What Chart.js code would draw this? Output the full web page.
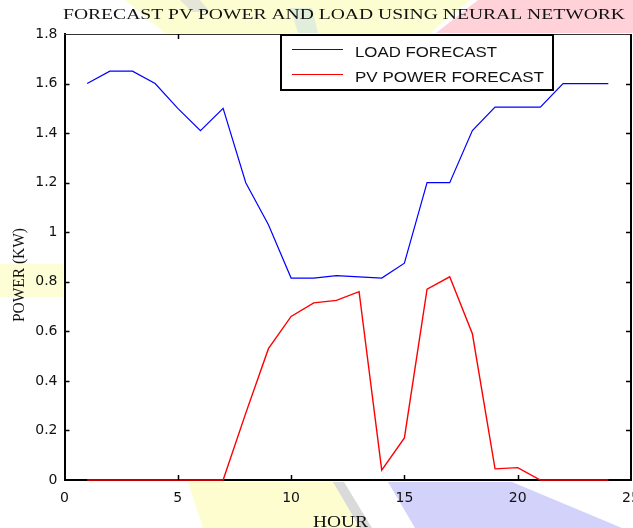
<!DOCTYPE html>
<html>
<head>
<meta charset="utf-8">
<script src="https://cdn.jsdelivr.net/npm/chart.js@4.4.1/dist/chart.umd.min.js"></script>
<style>
  html, body { margin: 0; padding: 0; background: #fff; }
  #wrap { width: 633px; height: 528px; }
</style>
</head>
<body>
<div id="wrap"><canvas id="c" width="633" height="528"></canvas></div>
<script>
// Hourly forecast data (kW)
const hours = [1,2,3,4,5,6,7,8,9,10,11,12,13,14,15,16,17,18,19,20,21,22,23,24];
const loadForecast = [1.60,1.65,1.65,1.60,1.50,1.41,1.50,1.20,1.03,0.815,0.815,0.825,0.82,0.815,0.875,1.20,1.20,1.41,1.505,1.505,1.505,1.60,1.60,1.60];
const pvForecast = [0,0,0,0,0,0,0,0.27,0.53,0.66,0.715,0.725,0.76,0.04,0.17,0.77,0.82,0.59,0.045,0.05,0,0,0,0];
const seriesNames = ['LOAD FORECAST', 'PV POWER FORECAST'];
const xTickValues = [0,5,10,15,20,25];
const xTickLabels = ['0','5','10','15','20','25'];
const yTickValues = [0,0.2,0.4,0.6,0.8,1.0,1.2,1.4,1.6,1.8];
const yTickLabels = ['0','0.2','0.4','0.6','0.8','1','1.2','1.4','1.6','1.8'];
const chartTitle = 'FORECAST PV POWER AND LOAD USING NEURAL NETWORK';
const xTitle = 'HOUR';
const yTitle = 'POWER (KW)';

const toPoints = (vals) => vals.map((v, i) => ({ x: hours[i], y: v }));

// Draw text horizontally stretched to a given width
function fitText(ctx, text, font, x, y, width, align) {
  ctx.save();
  ctx.font = font;
  const w = ctx.measureText(text).width;
  const sx = width / w;
  ctx.translate(x, y);
  ctx.scale(sx, 1);
  ctx.textAlign = align || 'left';
  ctx.textBaseline = 'alphabetic';
  ctx.fillText(text, 0, 0);
  ctx.restore();
}

function poly(ctx, pts, color) {
  ctx.beginPath();
  ctx.moveTo(pts[0][0], pts[0][1]);
  for (let i = 1; i < pts.length; i++) ctx.lineTo(pts[i][0], pts[i][1]);
  ctx.closePath();
  ctx.fillStyle = color;
  ctx.fill();
}

// Page background with the pale coloured patches behind the figure
const backdrop = {
  id: 'backdrop',
  beforeDraw(chart) {
    const ctx = chart.ctx;
    ctx.save();
    ctx.fillStyle = '#ffffff';
    ctx.fillRect(0, 0, chart.width, chart.height);
    poly(ctx, [[125,0],[470,0],[430,33],[165,33]], '#fdfdd2');
    poly(ctx, [[180,0],[200,0],[210,12],[192,12]], '#e6e6d8');
    poly(ctx, [[290,8],[312,8],[318,33],[298,33]], '#e2eedc');
    poly(ctx, [[478,0],[633,0],[633,33],[436,33]], '#ffd2da');
    poly(ctx, [[0,264],[63,264],[63,297],[0,297]], '#fdfdd6');
    poly(ctx, [[188,482],[333,482],[360,528],[203,528]], '#fdfdd0');
    poly(ctx, [[333,482],[344,482],[372,528],[360,528]], '#dadada');
    poly(ctx, [[388,482],[512,482],[622,528],[415,528]], '#d2d2fb');
    ctx.restore();
  }
};

// Box, inward tick marks, legend and text
const decorations = {
  id: 'decorations',
  afterDraw(chart) {
    const ctx = chart.ctx;
    const a = chart.chartArea;
    const xs = chart.scales.x, ys = chart.scales.y;
    ctx.save();
    // frame
    ctx.strokeStyle = '#333';
    ctx.lineWidth = 1;
    ctx.beginPath();
    ctx.moveTo(a.left, a.top + 0.5);
    ctx.lineTo(a.right, a.top + 0.5);
    ctx.stroke();
    ctx.strokeStyle = '#000';
    ctx.lineWidth = 2;
    ctx.beginPath();
    ctx.moveTo(a.right, a.top);
    ctx.lineTo(a.right, a.bottom);
    ctx.stroke();
    // inward ticks
    ctx.lineWidth = 1.5;
    ctx.beginPath();
    xTickValues.forEach(v => {
      if (v <= xs.min || v >= xs.max) return;
      const px = Math.round(xs.getPixelForValue(v)) + 0.5;
      ctx.moveTo(px, a.bottom); ctx.lineTo(px, a.bottom - 5);
      ctx.moveTo(px, a.top); ctx.lineTo(px, a.top + 5);
    });
    yTickValues.forEach(v => {
      if (v <= ys.min || v >= ys.max) return;
      const py = Math.round(ys.getPixelForValue(v)) + 0.5;
      ctx.moveTo(a.left, py); ctx.lineTo(a.left + 5, py);
      ctx.moveTo(a.right, py); ctx.lineTo(a.right - 5, py);
    });
    ctx.stroke();

    // legend
    const lx = 281, ly = 35, lw = 272, lh = 55;
    ctx.fillStyle = '#fff';
    ctx.fillRect(lx, ly, lw, lh);
    ctx.strokeStyle = '#000';
    ctx.lineWidth = 2;
    ctx.strokeRect(lx, ly, lw, lh);
    const entries = [
      { y: 49.5, ty: 57.3, w: 142, ds: chart.data.datasets[0] },
      { y: 74.5, ty: 82.3, w: 189, ds: chart.data.datasets[1] }
    ];
    entries.forEach(e => {
      ctx.strokeStyle = e.ds.borderColor;
      ctx.lineWidth = 1.2;
      ctx.beginPath();
      ctx.moveTo(292, e.y); ctx.lineTo(343, e.y);
      ctx.stroke();
      ctx.fillStyle = '#111';
      fitText(ctx, e.ds.label, '15px "Liberation Sans", Arial, sans-serif', 355, e.ty, e.w, 'left');
    });

    // titles
    ctx.fillStyle = '#111';
    fitText(ctx, chartTitle, '14px "Liberation Serif", "Times New Roman", serif', 63, 18.7, 562, 'left');
    fitText(ctx, xTitle, '17px "Liberation Serif", "Times New Roman", serif', 313, 526.5, 55, 'left');
    // rotated y title, stretched across its height
    ctx.save();
    ctx.font = '14.5px "Liberation Serif", "Times New Roman", serif';
    const tw = ctx.measureText(yTitle).width;
    ctx.translate(23.5, 275);
    ctx.rotate(-Math.PI / 2);
    ctx.scale(94 / tw, 1.2);
    ctx.textAlign = 'center';
    ctx.textBaseline = 'alphabetic';
    ctx.fillText(yTitle, 0, 0);
    ctx.restore();
    ctx.restore();
  }
};

new Chart(document.getElementById('c'), {
  type: 'line',
  data: {
    datasets: [
      { label: seriesNames[0], data: toPoints(loadForecast), borderColor: '#0000ff', borderWidth: 1.2, pointRadius: 0, tension: 0, fill: false, clip: false },
      { label: seriesNames[1], data: toPoints(pvForecast), borderColor: '#ff0000', borderWidth: 1.4, pointRadius: 0, tension: 0, fill: false, clip: false }
    ]
  },
  options: {
    responsive: false,
    animation: false,
    devicePixelRatio: 1,
    layout: { padding: { top: 34, right: 2, left: 0, bottom: 0 } },
    plugins: { legend: { display: false }, title: { display: false }, tooltip: { enabled: false } },
    scales: {
      x: {
        type: 'linear', min: 0, max: 25,
        afterBuildTicks(s) { s.ticks = xTickValues.map(v => ({ value: v })); },
        afterFit(s) { s.height = 48; s.paddingLeft = 0; s.paddingRight = 0; },
        grid: { display: false, drawTicks: false, tickLength: 0 },
        border: { display: true, color: '#000', width: 2 },
        ticks: {
          color: '#111', padding: 10, maxRotation: 0, autoSkip: false,
          font: { family: '"DejaVu Sans", sans-serif', size: 14 },
          callback: (v) => xTickLabels[xTickValues.indexOf(v)]
        }
      },
      y: {
        min: 0, max: 1.8,
        afterBuildTicks(s) { s.ticks = yTickValues.map(v => ({ value: v })); },
        afterFit(s) { s.width = 64.5; s.paddingTop = 0; s.paddingBottom = 0; },
        grid: { display: false, drawTicks: false, tickLength: 0 },
        border: { display: true, color: '#000', width: 2 },
        ticks: {
          color: '#111', padding: 7, autoSkip: false,
          font: { family: '"DejaVu Sans", sans-serif', size: 14 },
          callback: (v) => yTickLabels[yTickValues.findIndex(t => Math.abs(t - v) < 1e-9)]
        }
      }
    }
  },
  plugins: [backdrop, decorations]
});
</script>
</body>
</html>
